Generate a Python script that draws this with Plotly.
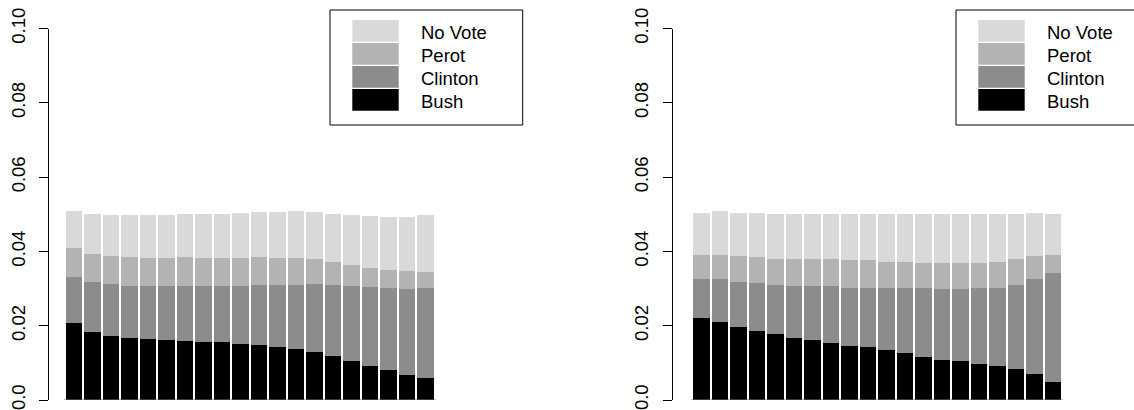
import plotly.graph_objects as go

# Canvas size in pixels
W, H = 1134, 410

# Series (drawn bottom to top) and their fill colours
parties = ["Bush", "Clinton", "Perot", "No Vote"]
colors = ["#000000", "#8c8c8c", "#b3b3b3", "#d9d9d9"]

# Y axis ticks
yticks = [0.0, 0.02, 0.04, 0.06, 0.08, 0.10]
ytick_labels = ["0.0", "0.02", "0.04", "0.06", "0.08", "0.10"]

# Left panel: share of each outcome per group (20 groups)
left_bush = [0.0208, 0.0184, 0.0173, 0.0168, 0.0165, 0.0163, 0.0160, 0.0157, 0.0157, 0.0152,
             0.0149, 0.0144, 0.0138, 0.0130, 0.0120, 0.0106, 0.0093, 0.0082, 0.0068, 0.0060]
left_clinton = [0.0125, 0.0135, 0.0141, 0.0140, 0.0143, 0.0145, 0.0148, 0.0151, 0.0151, 0.0156,
                0.0162, 0.0167, 0.0173, 0.0184, 0.0191, 0.0202, 0.0213, 0.0221, 0.0232, 0.0243]
left_perot = [0.0078, 0.0076, 0.0075, 0.0079, 0.0076, 0.0076, 0.0079, 0.0076, 0.0076, 0.0076,
              0.0076, 0.0073, 0.0073, 0.0067, 0.0062, 0.0057, 0.0051, 0.0049, 0.0049, 0.0043]
left_novote = [0.0099, 0.0107, 0.0110, 0.0112, 0.0115, 0.0115, 0.0115, 0.0118, 0.0118, 0.0120,
               0.0120, 0.0123, 0.0126, 0.0126, 0.0129, 0.0134, 0.0139, 0.0142, 0.0145, 0.0153]

# Right panel
right_bush = [0.0221, 0.0210, 0.0199, 0.0188, 0.0178, 0.0167, 0.0162, 0.0156, 0.0148, 0.0145,
              0.0137, 0.0129, 0.0118, 0.0110, 0.0105, 0.0097, 0.0092, 0.0086, 0.0070, 0.0049]
right_clinton = [0.0107, 0.0116, 0.0121, 0.0127, 0.0132, 0.0140, 0.0145, 0.0151, 0.0156, 0.0159,
                 0.0167, 0.0173, 0.0184, 0.0189, 0.0194, 0.0205, 0.0212, 0.0224, 0.0256, 0.0293]
right_perot = [0.0065, 0.0067, 0.0068, 0.0070, 0.0072, 0.0073, 0.0073, 0.0073, 0.0073, 0.0073,
               0.0070, 0.0070, 0.0067, 0.0070, 0.0070, 0.0067, 0.0070, 0.0072, 0.0064, 0.0051]
right_novote = [0.0111, 0.0116, 0.0118, 0.0121, 0.0121, 0.0123, 0.0123, 0.0123, 0.0126, 0.0126,
                0.0129, 0.0131, 0.0134, 0.0134, 0.0134, 0.0132, 0.0129, 0.0121, 0.0116, 0.0108]

left_series = [left_bush, left_clinton, left_perot, left_novote]
right_series = [right_bush, right_clinton, right_perot, right_novote]

FONT = "Liberation Sans, Arial, Helvetica, sans-serif"
PERIOD = 18.5          # pixels per bar slot
BAR_W = 0.87           # bar width as a fraction of a slot
Y_BOTTOM, Y_TOP = 400, 28.5   # pixel rows of y=0 and y=0.10


def px_x(p):
    return p / W


def px_y(p):
    return 1 - p / H


def x_axis_layout(axis_px, first_center_px, right_px):
    lo = -(first_center_px - axis_px) / PERIOD
    hi = lo + (right_px - axis_px) / PERIOD
    return dict(domain=[px_x(axis_px), px_x(right_px)], range=[lo, hi], visible=False,
                automargin=False, fixedrange=True)


def y_axis_layout(anchor):
    return dict(
        anchor=anchor, domain=[px_y(Y_BOTTOM), px_y(Y_TOP)], range=[0, 0.1],
        tickvals=yticks, ticktext=ytick_labels, tickangle=-90,
        ticks="outside", ticklen=9, tickwidth=1, tickcolor="#000000",
        showline=True, linecolor="#000000", linewidth=1,
        showgrid=False, zeroline=False, ticklabelstandoff=7, automargin=False,
        ticklabeloverflow="allow",
        tickfont=dict(family=FONT, size=18.5, color="#000000"), fixedrange=True,
    )


fig = go.Figure()
shapes = []
annotations = []

panels = [
    ("x", "y", left_series, 49, 74, 450, 330),
    ("x2", "y2", right_series, 672.7, 701.2, 1125, 956),
]

for xa, ya, series, axis_px, first_px, right_px, legend_left in panels:
    n = len(series[0])
    xs = list(range(n))
    for name, vals, col in zip(parties, series, colors):
        fig.add_trace(go.Bar(
            x=xs, y=vals, name=name, width=BAR_W, xaxis=xa, yaxis=ya,
            marker=dict(color=col, line=dict(width=0)), showlegend=False,
        ))
    # base line under the bars
    shapes.append(dict(type="line", xref=xa, yref=ya, x0=-0.55, x1=n - 1 + 0.55, y0=0, y1=0,
                       line=dict(color="#777777", width=1.2)))
    # legend box
    shapes.append(dict(type="rect", xref="paper", yref="paper",
                       x0=px_x(legend_left), x1=px_x(legend_left + 192.7),
                       y0=px_y(125), y1=px_y(10),
                       line=dict(color="#000000", width=1), fillcolor="rgba(0,0,0,0)"))
    for k, (name, col) in enumerate(zip(parties[::-1], colors[::-1])):
        top = 20 + k * 23
        shapes.append(dict(type="rect", xref="paper", yref="paper",
                           x0=px_x(legend_left + 22.3), x1=px_x(legend_left + 68.7),
                           y0=px_y(top + 21.7), y1=px_y(top),
                           line=dict(width=0), fillcolor=col))
        annotations.append(dict(xref="paper", yref="paper", x=px_x(legend_left + 89),
                                y=px_y(top + 12.5), text=name, showarrow=False,
                                xanchor="left", yanchor="middle",
                                font=dict(family=FONT, size=18.5, color="#000000")))

fig.update_layout(
    width=W, height=H, margin=dict(l=0, r=0, t=0, b=0, autoexpand=False),
    paper_bgcolor="#ffffff", plot_bgcolor="#ffffff",
    barmode="stack", bargap=0,
    xaxis=x_axis_layout(49, 74, 450),
    xaxis2=x_axis_layout(672.7, 701.2, 1125),
    yaxis=y_axis_layout("x"),
    yaxis2=y_axis_layout("x2"),
    shapes=shapes, annotations=annotations,
)

fig.write_html("out.html")
